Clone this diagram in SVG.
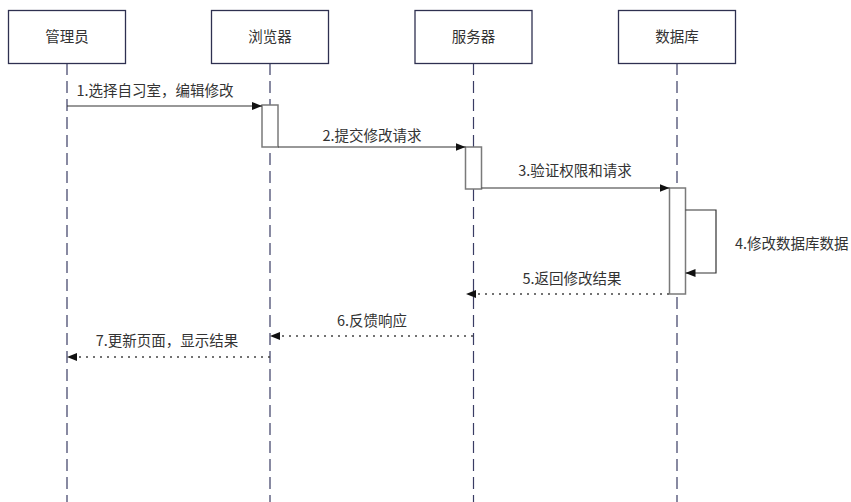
<svg xmlns="http://www.w3.org/2000/svg" width="851" height="502" viewBox="0 0 851 502">
<style>
.box{fill:#fff;stroke:#2e3050;stroke-width:1.3}
.life{stroke:#3a3c64;stroke-width:1.2;stroke-dasharray:12 6;fill:none}
.act{fill:#fff;stroke:#7a7a7a;stroke-width:1.5}
.msg{stroke:#333;stroke-width:1.2;fill:none}
.ret{stroke:#444;stroke-width:1.5;fill:none;stroke-dasharray:2 5}
.t{font-family:"Noto Sans CJK SC","Microsoft YaHei",sans-serif;font-size:14.5px;fill:#333}
.m{text-anchor:middle}
</style>
<defs>
<marker id="ah" markerUnits="userSpaceOnUse" markerWidth="10" markerHeight="8" refX="10" refY="4" orient="auto">
<path d="M0,0 L10,4 L0,8 z" fill="#111"/>
</marker>
</defs>
<rect width="851" height="502" fill="#fff"/>
<g id="lifelines">
<line class="life" x1="67" y1="63" x2="67" y2="502"/>
<line class="life" x1="270" y1="63" x2="270" y2="502"/>
<line class="life" x1="473.5" y1="63" x2="473.5" y2="502"/>
<line class="life" x1="677" y1="63" x2="677" y2="502"/>
</g>
<g id="admin"><rect class="box" x="8.5" y="10.5" width="117" height="53"/><text class="t m" x="67" y="42">管理员</text></g>
<g id="browser"><rect class="box" x="211.5" y="10.5" width="117" height="53"/><text class="t m" x="270" y="42">浏览器</text></g>
<g id="server"><rect class="box" x="415" y="10.5" width="117" height="53"/><text class="t m" x="473.5" y="42">服务器</text></g>
<g id="db"><rect class="box" x="618.5" y="10.5" width="117" height="53"/><text class="t m" x="677" y="42">数据库</text></g>
<g id="activations">
<rect class="act" x="262" y="105" width="16" height="42"/>
<rect class="act" x="465.5" y="147" width="16" height="42"/>
<rect class="act" x="669.5" y="188" width="16" height="106"/>
</g>
<g id="connectors">
<line class="msg" x1="67" y1="106" x2="262" y2="106" marker-end="url(#ah)"/>
<line class="msg" x1="278" y1="147" x2="465.5" y2="147" marker-end="url(#ah)"/>
<line class="msg" x1="481.5" y1="188" x2="669.5" y2="188" marker-end="url(#ah)"/>
<polyline class="msg" points="685.5,210 716,210 716,273 685.5,273" marker-end="url(#ah)"/>
<line class="ret" x1="669" y1="294" x2="466" y2="294" marker-end="url(#ah)"/>
<line class="ret" x1="473" y1="336" x2="270" y2="336" marker-end="url(#ah)"/>
<line class="ret" x1="270" y1="357" x2="67" y2="357" marker-end="url(#ah)"/>
</g>
<g id="labels">
<text class="t m" x="155" y="95.5">1.选择自习室，编辑修改</text>
<text class="t m" x="372" y="140.5">2.提交修改请求</text>
<text class="t m" x="575" y="175.5">3.验证权限和请求</text>
<text class="t" x="735" y="248.5">4.修改数据库数据</text>
<text class="t m" x="572" y="283.5">5.返回修改结果</text>
<text class="t m" x="372" y="325.5">6.反馈响应</text>
<text class="t m" x="167" y="345.5">7.更新页面，显示结果</text>
</g>
</svg>
